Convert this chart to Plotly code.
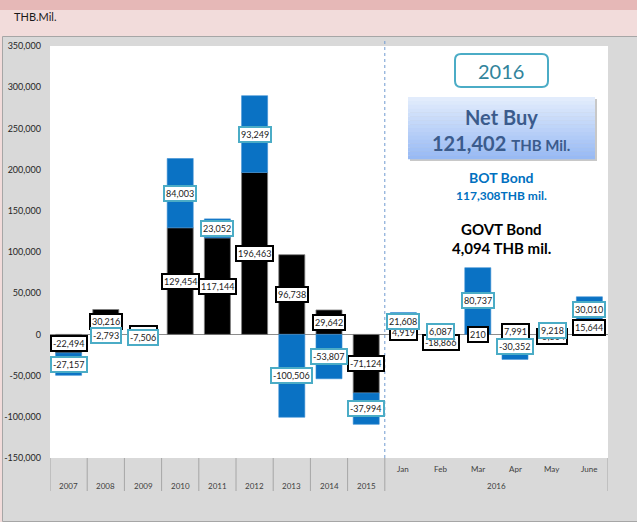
import plotly.graph_objects as go

categories = ["2007", "2008", "2009", "2010", "2011", "2012", "2013", "2014", "2015",
              "Jan", "Feb", "Mar", "Apr", "May", "June"]
year_labels = ["2007", "2008", "2009", "2010", "2011", "2012", "2013", "2014", "2015"]
month_labels = ["Jan", "Feb", "Mar", "Apr", "May", "June"]
month_group = "2016"
govt = [-22494, 30216, 1200, 129454, 117144, 196463, 96738, 29642, -71124,
        4919, -18866, 210, 7991, -5804, 15644]
bot = [-27157, -2793, -7506, 84003, 23052, 93249, -100506, -53807, -37994,
       21608, 6087, 80737, -30352, 9218, 30010]
y_ticks = [-150000, -100000, -50000, 0, 50000, 100000, 150000, 200000, 250000, 300000, 350000]

FONT = "Lato"
W, H = 637, 522
L, R, T, B = 50, 608, 46, 458


def px(xp):
    return (xp - L) / (R - L)


def py(yp):
    return (B - yp) / (B - T)


idx = {c: i for i, c in enumerate(categories)}

fig = go.Figure()
fig.add_bar(x=list(range(len(categories))), y=govt, name="GOVT Bond", marker_color="#000000",
            marker_line_color="#7f7f7f", marker_line_width=0.8,
            customdata=categories, hovertemplate="%{customdata}: %{y:,}<extra></extra>")
fig.add_bar(x=list(range(len(categories))), y=bot, name="BOT Bond", marker_color="#0a72c4",
            marker_line_color="#3a8ed3", marker_line_width=0.6,
            customdata=categories, hovertemplate="%{customdata}: %{y:,}<extra></extra>")

annotations = []


def note(**kw):
    kw.setdefault("showarrow", False)
    kw.setdefault("xanchor", "center")
    kw.setdefault("yanchor", "middle")
    annotations.append(kw)


# data labels centred in each stacked segment
pos = [0] * len(categories)
neg = [0] * len(categories)
centers = {"govt": [], "bot": []}
for key, series in (("govt", govt), ("bot", bot)):
    for i, v in enumerate(series):
        if v >= 0:
            y0 = pos[i]
            pos[i] += v
        else:
            y0 = neg[i]
            neg[i] += v
        centers[key].append(y0 + v / 2)

for key, series, border in (("govt", govt, "#000000"), ("bot", bot, "#4bacc6")):
    for i, v in enumerate(series):
        note(x=i, y=centers[key][i], xref="x", yref="y", text=f"{v:,}",
             font=dict(family=FONT, size=9, color="#222222"),
             bgcolor="#ffffff", bordercolor=border, borderwidth=2, borderpad=1)

# category axis labels
for c in year_labels:
    note(x=idx[c], y=py(486), xref="x", yref="paper", text=c,
         font=dict(family=FONT, size=8, color="#404040"))
for c in month_labels:
    note(x=idx[c], y=py(469), xref="x", yref="paper", text=c,
         font=dict(family=FONT, size=8, color="#404040"))
mid = (idx[month_labels[0]] + idx[month_labels[-1]]) / 2
note(x=mid, y=py(486), xref="x", yref="paper", text=month_group,
     font=dict(family=FONT, size=8, color="#404040"))

# header text
note(x=px(12), y=py(17), xref="paper", yref="paper", text="THB.Mil.", xanchor="left",
     font=dict(family=FONT, size=11, color="#1a1a1a"))

# right side info boxes
cx = px(501.5)
note(x=cx, y=py(70.5), xref="paper", yref="paper", text="2016",
     font=dict(family=FONT, size=20, color="#31849b"))
note(x=cx, y=py(117), xref="paper", yref="paper", text="<b>Net Buy</b>",
     font=dict(family=FONT, size=20, color="#3b5b8c"))
note(x=cx, y=py(143), xref="paper", yref="paper",
     text="<b>121,402 <span style='font-size:15px'>THB Mil.</span></b>",
     font=dict(family=FONT, size=20, color="#3b5b8c"))
note(x=cx, y=py(177), xref="paper", yref="paper", text="<b>BOT Bond</b>",
     font=dict(family=FONT, size=14, color="#0070c0"))
note(x=cx, y=py(196), xref="paper", yref="paper", text="<b>117,308THB mil.</b>",
     font=dict(family=FONT, size=12, color="#0070c0"))
note(x=cx, y=py(229), xref="paper", yref="paper", text="<b>GOVT Bond</b>",
     font=dict(family=FONT, size=15, color="#000000"))
note(x=cx, y=py(248), xref="paper", yref="paper", text="<b>4,094 THB mil.</b>",
     font=dict(family=FONT, size=15, color="#000000"))

shapes = []
# backgrounds
shapes.append(dict(type="rect", xref="paper", yref="paper", x0=px(-5), x1=px(W + 5),
                   y0=py(0), y1=py(10), fillcolor="#e6b8b7", line_width=0, layer="below"))
shapes.append(dict(type="rect", xref="paper", yref="paper", x0=px(2.5), x1=px(W + 5),
                   y0=py(36.5), y1=py(521.5), fillcolor="#d9d9d9",
                   line=dict(color="#a6a6a6", width=1), layer="below"))
shapes.append(dict(type="rect", xref="paper", yref="paper", x0=0, x1=1, y0=0, y1=1,
                   fillcolor="#ffffff", line_width=0, layer="below"))

# category dividers
n = len(categories)
first_month = idx[month_labels[0]]
for k in list(range(0, first_month + 1)) + [n]:
    shapes.append(dict(type="line", xref="x", yref="paper", x0=k - 0.5, x1=k - 0.5,
                       y0=0, y1=py(491), line=dict(color="#a6a6a6", width=1)))
# dashed separator between years and months
shapes.append(dict(type="line", xref="x", yref="paper", x0=first_month - 0.5,
                   x1=first_month - 0.5, y0=0, y1=py(40),
                   line=dict(color="#6f9bd1", width=1, dash="dot")))

# 2016 rounded box
x0, x1, y0, y1, r = 455, 548, 54, 87, 6
rx, ry = r / (R - L), r / (B - T)
X0, X1, Y0, Y1 = px(x0), px(x1), py(y1), py(y0)
path = (f"M {X0+rx},{Y0} L {X1-rx},{Y0} Q {X1},{Y0} {X1},{Y0+ry} L {X1},{Y1-ry} "
        f"Q {X1},{Y1} {X1-rx},{Y1} L {X0+rx},{Y1} Q {X0},{Y1} {X0},{Y1-ry} "
        f"L {X0},{Y0+ry} Q {X0},{Y0} {X0+rx},{Y0} Z")
shapes.append(dict(type="path", xref="paper", yref="paper", path=path,
                   fillcolor="rgba(0,0,0,0)", line=dict(color="#4bacc6", width=2)))

# Net Buy gradient box with shadow
bx0, bx1, by0, by1 = 408, 595, 97, 159
shapes.append(dict(type="rect", xref="paper", yref="paper", x0=px(bx0 + 2), x1=px(bx1 + 2),
                   y0=py(by1 + 2), y1=py(by0 + 2), fillcolor="#c8c8c8", line_width=0,
                   layer="below"))
top_c, bot_c = (226, 236, 252), (152, 186, 244)
steps = 16
for s in range(steps):
    t = s / (steps - 1)
    c = tuple(round(top_c[j] + (bot_c[j] - top_c[j]) * t) for j in range(3))
    ya = by0 + (by1 - by0) * s / steps
    yb = by0 + (by1 - by0) * (s + 1) / steps
    shapes.append(dict(type="rect", xref="paper", yref="paper", x0=px(bx0), x1=px(bx1),
                       y0=py(yb + 0.3), y1=py(ya), fillcolor=f"rgb{c}", line_width=0,
                       layer="below"))

fig.update_layout(
    width=W, height=H,
    margin=dict(l=L, r=W - R, t=T, b=H - B, autoexpand=False),
    barmode="relative", bargap=0.3,
    paper_bgcolor="#f2dcdb", plot_bgcolor="rgba(0,0,0,0)",
    showlegend=False,
    font=dict(family=FONT),
    annotations=annotations, shapes=shapes,
    xaxis=dict(showticklabels=False, showgrid=False, zeroline=False,
               ticks="", range=[-0.5, n - 0.5], fixedrange=True, automargin=False),
    yaxis=dict(range=[-150000, 350000], tickvals=y_ticks,
               ticktext=[f"{v:,}" for v in y_ticks], showgrid=False,
               zeroline=True, zerolinecolor="#8c8c8c", zerolinewidth=1,
               tickfont=dict(family=FONT, size=9, color="#262626"),
               ticks="", ticklabelstandoff=8, fixedrange=True, automargin=False),
)

fig.write_html("out.html", config={"displayModeBar": False},
               post_script="document.body.style.margin='0px';document.body.style.overflow='hidden';")
